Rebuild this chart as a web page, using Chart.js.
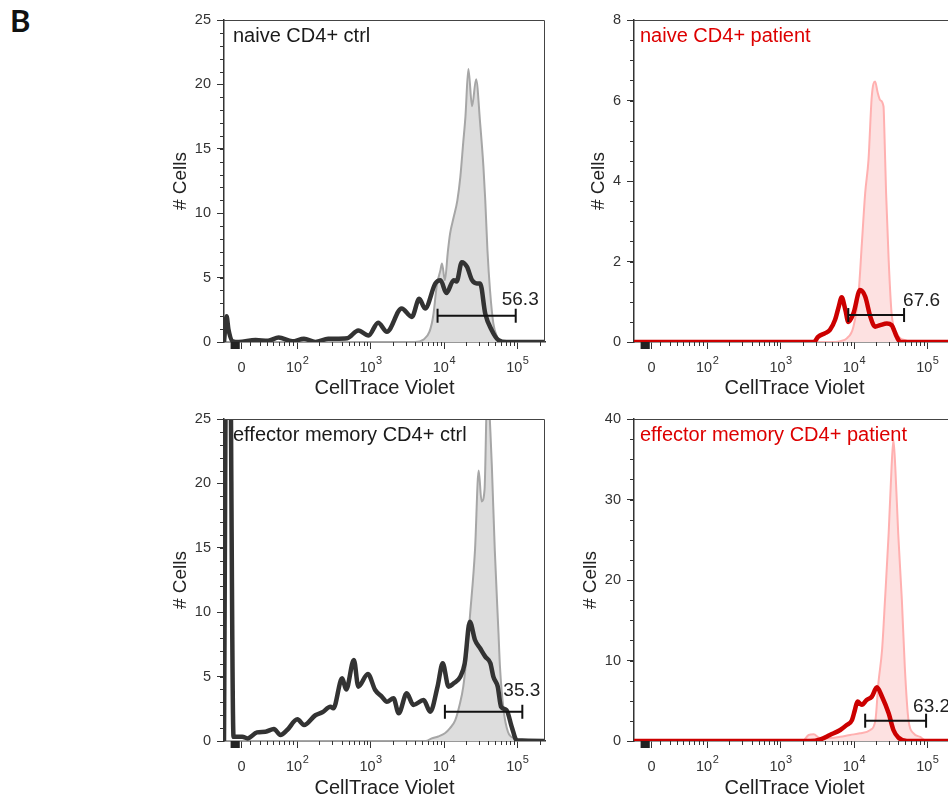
<!DOCTYPE html>
<html>
<head>
<meta charset="utf-8">
<script src="https://cdn.jsdelivr.net/npm/chart.js@4.4.1/dist/chart.umd.min.js"></script>
<style>
html, body { margin: 0; padding: 0; background: #fff; }
#page { position: relative; width: 948px; height: 801px; overflow: hidden; }
#page canvas { position: absolute; }
#fig { position: absolute; left: 10px; top: 5px; font: bold 31px Lato, 'Liberation Sans', sans-serif; line-height: 30px; color: #111; }
</style>
</head>
<body>
<div id="page">
  <div id="fig">B</div>
  <canvas id="c1" width="410" height="400" style="left:150px;top:0px"></canvas>
  <canvas id="c2" width="410" height="400" style="left:560px;top:0px"></canvas>
  <canvas id="c3" width="410" height="400" style="left:150px;top:400px"></canvas>
  <canvas id="c4" width="410" height="400" style="left:560px;top:400px"></canvas>
</div>
<script>
// x values are positions on the biexponential CellTrace Violet axis, in decades (2 = 10^2)
var xTickPos = [1.238, 2, 3, 4, 5];
var xTickBase = ['0', '10', '10', '10', '10'];
var xTickExp = ['', '2', '3', '4', '5'];
var xLowMinor = [1.354, 1.490, 1.581, 1.671, 1.748, 1.816, 1.884, 1.943];

// naive CD4+ ctrl
var naiveCtrlRefX = [1.0, 3.60, 3.72, 3.80, 3.85, 3.90, 3.95, 3.97, 4.01, 4.05, 4.08, 4.13, 4.18, 4.22, 4.26, 4.29, 4.33, 4.38, 4.435, 4.49, 4.535, 4.56, 4.59, 4.625, 4.67, 4.72, 4.81, 5.374];
var naiveCtrlRefY = [0, 0, 0.2, 0.8, 2.0, 4.4, 5.6, 6.1, 4.8, 7.0, 8.4, 9.7, 11.0, 12.8, 15.5, 17.5, 21.2, 18.3, 20.4, 17.0, 13.6, 11.0, 7.1, 4.0, 1.45, 0.4, 0, 0];
var naiveCtrlX = [1.0, 1.035, 1.06, 1.12, 1.2, 1.43, 1.6, 1.745, 1.93, 2.09, 2.245, 2.42, 2.68, 2.83, 2.97, 3.10, 3.22, 3.42, 3.56, 3.66, 3.74, 3.88, 3.95, 4.03, 4.13, 4.17, 4.24, 4.31, 4.38, 4.445, 4.49, 4.56, 4.65, 4.74, 4.85, 5.374];
var naiveCtrlY = [0, 2.0, 1.0, 0.05, 0, 0.15, 0.1, 0.35, 0.05, 0.25, 0, 0.25, 0.3, 0.9, 0.5, 1.5, 0.8, 2.6, 1.95, 3.35, 2.6, 4.55, 4.8, 3.8, 4.8, 4.7, 6.2, 5.85, 4.8, 4.55, 4.55, 2.2, 0.9, 0.15, 0, 0];

// naive CD4+ patient
var naivePatRefX = [1.0, 3.75, 3.81, 3.90, 3.99, 4.06, 4.105, 4.15, 4.195, 4.24, 4.285, 4.32, 4.355, 4.40, 4.41, 4.435, 4.47, 4.51, 4.58, 4.72, 4.80, 5.374];
var naivePatRefY = [0, 0, 0.02, 0.09, 0.38, 1.21, 2.45, 3.7, 4.52, 6.1, 6.47, 6.2, 6.01, 5.85, 5.35, 3.7, 2.04, 0.71, 0.22, 0.03, 0, 0];
var naivePatX = [1.0, 3.45, 3.51, 3.605, 3.67, 3.74, 3.79, 3.83, 3.88, 3.92, 3.99, 4.08, 4.15, 4.22, 4.285, 4.355, 4.445, 4.51, 4.58, 4.63, 5.374];
var naivePatY = [0, 0, 0.13, 0.22, 0.3, 0.55, 0.88, 1.11, 0.8, 0.5, 0.71, 1.29, 1.13, 0.63, 0.38, 0.42, 0.46, 0.42, 0.13, 0, 0];

// effector memory CD4+ ctrl
var emCtrlRefX = [1.0, 3.75, 3.83, 3.92, 4.01, 4.08, 4.15, 4.21, 4.26, 4.31, 4.35, 4.42, 4.47, 4.51, 4.55, 4.59, 4.63, 4.65, 4.69, 4.74, 4.76, 4.81, 4.87, 4.96, 5.05, 5.374];
var emCtrlRefY = [0, 0, 0.2, 0.35, 0.6, 1.0, 1.6, 2.8, 4.2, 6.8, 9.6, 14.8, 21.0, 18.6, 19.5, 28.0, 24.0, 21.3, 14.8, 8.4, 5.8, 2.4, 0.7, 0.2, 0, 0];
var emCtrlX = [1.0, 1.04, 1.07, 1.13, 1.25, 1.32, 1.45, 1.565, 1.68, 1.77, 1.86, 2.0, 2.09, 2.245, 2.34, 2.45, 2.49, 2.61, 2.665, 2.77, 2.83, 2.96, 3.06, 3.15, 3.22, 3.31, 3.38, 3.49, 3.58, 3.72, 3.81, 3.91, 3.98, 4.06, 4.13, 4.22, 4.28, 4.35, 4.42, 4.49, 4.56, 4.63, 4.67, 4.73, 4.775, 4.85, 4.92, 4.99, 5.374];
var emCtrlY = [0, 40, 40, 0.33, 0.33, 0.2, 0.67, 0.72, 0.93, 0.47, 0.85, 1.68, 1.24, 2.0, 2.23, 2.66, 2.54, 4.87, 4.0, 6.29, 4.22, 5.2, 3.96, 3.44, 3.05, 3.32, 2.15, 3.7, 2.8, 3.18, 2.27, 4.22, 6.03, 4.22, 4.48, 4.99, 6.03, 9.26, 7.84, 7.2, 6.55, 6.03, 5.0, 4.22, 2.66, 2.4, 1.11, 0.05, 0];

// effector memory CD4+ patient
var emPatRefX = [1.0, 3.30, 3.38, 3.45, 3.52, 3.63, 3.81, 3.945, 4.08, 4.22, 4.29, 4.33, 4.38, 4.42, 4.47, 4.51, 4.535, 4.56, 4.60, 4.65, 4.69, 4.74, 4.81, 4.90, 4.99, 5.374];
var emPatRefY = [0, 0, 0.75, 0.83, 0.4, 0.33, 0.53, 0.75, 0.95, 1.37, 2.6, 7.2, 11.3, 17.5, 25.8, 34.1, 37.4, 34.1, 25.8, 17.5, 9.2, 2.6, 0.95, 0.5, 0, 0];
var emPatX = [1.0, 3.40, 3.54, 3.67, 3.81, 3.90, 3.97, 4.01, 4.045, 4.105, 4.17, 4.24, 4.31, 4.38, 4.47, 4.535, 4.60, 4.72, 5.374];
var emPatY = [0, 0, 0.2, 0.75, 1.37, 2.0, 2.6, 3.85, 4.9, 4.5, 5.1, 5.5, 6.67, 5.5, 3.44, 1.37, 0.46, 0, 0];

// gates: start, end, height, percent
var gateStart = [3.91, 3.92, 4.01, 4.15];
var gateEnd = [4.975, 4.68, 5.065, 4.98];
var gateLevel = [2.04, 0.67, 2.27, 2.52];
var gatePercent = ['56.3', '67.6', '35.3', '63.2'];

var panelTitles = ['naive CD4+ ctrl', 'naive CD4+ patient', 'effector memory CD4+ ctrl', 'effector memory CD4+ patient'];
var yMaxes = [25, 8, 25, 40];
var ySteps = [5, 2, 5, 10];
var yMinorSteps = [1, 0.5, 1, 2.5];

var FONT = "'Liberation Sans', Arial, sans-serif";
var ctrlStyle = { line: '#333333', refLine: '#a6a6a6', refFill: '#dddddd', title: '#1a1a1a' };
var patStyle = { line: '#cc0000', refLine: '#ffb0b0', refFill: '#fde1e1', title: '#dd0000' };

function pts(xs, ys) {
    return xs.map(function(x, i) { return { x: x, y: ys[i] }; });
}

var decor = {
    id: 'decor',
    afterDraw: function(chart) {
        var o = chart.options.plugins.decor;
        var ctx = chart.ctx;
        var a = chart.chartArea;
        var xs = chart.scales.x, ys = chart.scales.y;
        ctx.save();
        // frame
        ctx.strokeStyle = '#444';
        ctx.lineWidth = 1;
        ctx.beginPath();
        ctx.moveTo(a.left, a.top + 0.5);
        ctx.lineTo(a.right - 0.5, a.top + 0.5);
        ctx.lineTo(a.right - 0.5, a.bottom);
        ctx.stroke();
        // minor ticks
        ctx.strokeStyle = '#333';
        var minors = xLowMinor.slice();
        [2, 3, 4, 5].forEach(function(d) {
            for (var k = 2; k <= 9; k++) minors.push(d + Math.log10(k));
        });
        ctx.beginPath();
        minors.forEach(function(v) {
            if (v > xs.max) return;
            var px = Math.round(xs.getPixelForValue(v)) + 0.5;
            ctx.moveTo(px, a.bottom);
            ctx.lineTo(px, a.bottom + 4);
        });
        for (var v = 0; v <= ys.max + 1e-9; v += o.yMinor) {
            var py = Math.round(ys.getPixelForValue(v)) + 0.5;
            ctx.moveTo(a.left, py);
            ctx.lineTo(a.left - 4, py);
        }
        ctx.stroke();
        // dense negative-region ticks
        ctx.fillStyle = '#222';
        var b0 = xs.getPixelForValue(1.09), b1 = xs.getPixelForValue(1.215);
        ctx.fillRect(b0, a.bottom, b1 - b0, 7);
        // x tick labels with superscript exponents
        ctx.fillStyle = '#333';
        ctx.textAlign = 'left';
        ctx.textBaseline = 'alphabetic';
        var yBase = a.bottom + 30;
        xTickPos.forEach(function(v, k) {
            ctx.font = '14.5px ' + FONT;
            var wb = ctx.measureText(xTickBase[k]).width;
            ctx.font = '11px ' + FONT;
            var we = xTickExp[k] ? ctx.measureText(xTickExp[k]).width + 0.5 : 0;
            var x0 = xs.getPixelForValue(v) - (wb + we) / 2;
            ctx.font = '14.5px ' + FONT;
            ctx.fillText(xTickBase[k], x0, yBase);
            if (xTickExp[k]) {
                ctx.font = '11px ' + FONT;
                ctx.fillText(xTickExp[k], x0 + wb + 0.5, yBase - 8);
            }
        });
        // panel title
        ctx.font = '20px ' + FONT;
        ctx.fillStyle = o.titleColor;
        ctx.fillText(o.title, a.left + o.titleDx, a.top + 22);
        // gate percentage
        ctx.font = '19px ' + FONT;
        ctx.fillStyle = '#222';
        ctx.textBaseline = 'middle';
        ctx.fillText(o.gateText, xs.getPixelForValue(o.gateEnd) + o.labelDx, ys.getPixelForValue(o.gateLevel) + o.labelDy);
        ctx.restore();
    }
};

function makePanel(id, i, st, mainXY, refXY, layout) {
    new Chart(document.getElementById(id), {
        type: 'line',
        data: {
            datasets: [{
                data: [{ x: gateStart[i], y: gateLevel[i] }, { x: gateEnd[i], y: gateLevel[i] }],
                borderColor: '#111',
                borderWidth: 2,
                pointStyle: 'line',
                rotation: 90,
                pointRadius: 7,
                pointBorderWidth: 2,
                pointBorderColor: '#111',
                fill: false
            }, {
                data: pts(mainXY[0], mainXY[1]),
                borderColor: st.line,
                borderWidth: 4.5,
                pointRadius: 0,
                cubicInterpolationMode: 'monotone',
                fill: false
            }, {
                data: pts(refXY[0], refXY[1]),
                borderColor: st.refLine,
                backgroundColor: st.refFill,
                borderWidth: 2,
                pointRadius: 0,
                cubicInterpolationMode: 'monotone',
                fill: 'origin'
            }]
        },
        options: {
            responsive: false,
            animation: false,
            devicePixelRatio: 1,
            layout: { padding: { top: layout.top, right: 15, left: 0, bottom: 0 } },
            plugins: {
                legend: { display: false },
                tooltip: { enabled: false },
                decor: {
                    title: panelTitles[i],
                    titleColor: st.title,
                    titleDx: layout.titleDx,
                    yMinor: yMinorSteps[i],
                    gateText: gatePercent[i],
                    gateEnd: gateEnd[i],
                    gateLevel: gateLevel[i],
                    labelDx: layout.labelDx,
                    labelDy: layout.labelDy
                }
            },
            scales: {
                x: {
                    type: 'linear',
                    min: 1.0,
                    max: 5.374,
                    afterBuildTicks: function(s) {
                        s.ticks = xTickPos.map(function(v) { return { value: v }; });
                    },
                    afterFit: function(s) { s.height = layout.xHeight; },
                    ticks: {
                        autoSkip: false,
                        maxRotation: 0,
                        padding: 10,
                        font: { family: FONT, size: 14.5 },
                        callback: function() { return ''; }
                    },
                    grid: { display: true, drawOnChartArea: false, drawTicks: true, tickLength: 7, color: '#333', lineWidth: 1 },
                    border: { display: true, color: '#333', width: 1.5 },
                    title: {
                        display: true,
                        text: 'CellTrace Violet',
                        color: '#222',
                        font: { family: FONT, size: 20 },
                        padding: { top: 0, bottom: 0 }
                    }
                },
                y: {
                    min: 0,
                    max: yMaxes[i],
                    afterFit: function(s) { s.width = 74; },
                    ticks: {
                        stepSize: ySteps[i],
                        padding: 6,
                        color: '#333',
                        font: { family: FONT, size: 14.5 }
                    },
                    grid: { display: true, drawOnChartArea: false, drawTicks: true, tickLength: 7, color: '#333', lineWidth: 1 },
                    border: { display: true, color: '#333', width: 1.5 },
                    title: {
                        display: true,
                        text: '# Cells',
                        color: '#222',
                        font: { family: FONT, size: 19 },
                        padding: { top: layout.yTitlePad, bottom: 0 }
                    }
                }
            }
        },
        plugins: [decor]
    });
}

makePanel('c1', 0, ctrlStyle, [naiveCtrlX, naiveCtrlY], [naiveCtrlRefX, naiveCtrlRefY],
    { top: 20, xHeight: 58, titleDx: 9, labelDx: -14, labelDy: -16, yTitlePad: 19.6 });
makePanel('c2', 1, patStyle, [naivePatX, naivePatY], [naivePatRefX, naivePatRefY],
    { top: 20, xHeight: 58, titleDx: 6, labelDx: -1, labelDy: -14, yTitlePad: 27.6 });
makePanel('c3', 2, ctrlStyle, [emCtrlX, emCtrlY], [emCtrlRefX, emCtrlRefY],
    { top: 19, xHeight: 59, titleDx: 9, labelDx: -19, labelDy: -21, yTitlePad: 19.6 });
makePanel('c4', 3, patStyle, [emPatX, emPatY], [emPatRefX, emPatRefY],
    { top: 19, xHeight: 59, titleDx: 6, labelDx: -13, labelDy: -14, yTitlePad: 19.6 });
</script>
</body>
</html>
